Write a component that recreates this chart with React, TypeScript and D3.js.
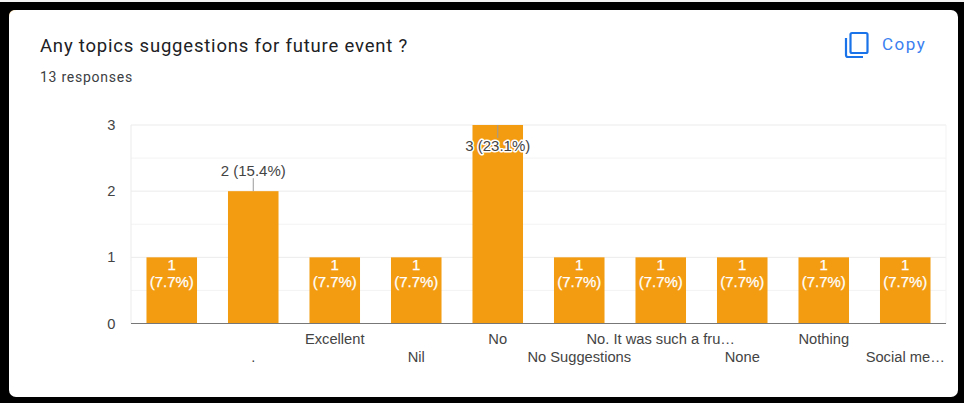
import React from "react";
import * as d3 from "d3";

const categories = ["(blank)", ".", "Excellent", "Nil", "No", "No Suggestions", "No. It was such a fru…", "None", "Nothing", "Social me…"];
const axisLabels = ["", ".", "Excellent", "Nil", "No", "No Suggestions", "No. It was such a fru…", "None", "Nothing", "Social me…"];
const counts = [1, 2, 1, 1, 3, 1, 1, 1, 1, 1];
const percents = ["7.7", "15.4", "7.7", "7.7", "23.1", "7.7", "7.7", "7.7", "7.7", "7.7"];
const yTicks = [0, 1, 2, 3];
const yMinor = [0.5, 1.5, 2.5];
const title = "Any topics suggestions for future event ?";
const subtitle = "13 responses";

const WIDTH = 964;
const HEIGHT = 403;
const CHART_FONT = "'Liberation Sans', Arial, sans-serif";
const HEAD_FONT = "Roboto, sans-serif";

export default function App() {
  const x = d3.scaleBand<string>().domain(categories).range([131, 946]).paddingInner(0.38).paddingOuter(0.19);
  const y = d3.scaleLinear().domain([0, 3]).range([323.5, 125]);
  const barColor = "#f39c12";

  return (
    <svg width={WIDTH} height={HEIGHT} viewBox={`0 0 ${WIDTH} ${HEIGHT}`} style={{ position: "absolute", left: 0, top: 0, display: "block" }}>
      <rect width={WIDTH} height={HEIGHT} fill="#000" />
      <rect x={0} y={0} width={WIDTH} height={2} fill="#f4f4f4" />
      <path d="M9 22 Q9 10 20 10 L14 10 Q9 11 9 16 Z" fill="#f6d7a5" />
      <rect x={9} y={10} width={949} height={387} rx={7} fill="#fff" />

      <text x={40} y={52} fontFamily={HEAD_FONT} fontSize={18.5} fill="#202124" letterSpacing={0.8}>{title}</text>
      <text x={40} y={82} fontFamily={HEAD_FONT} fontSize={14} fill="#3c4043" letterSpacing={0.75}>{subtitle}</text>

      <g fill="none" stroke="#1a73e8" strokeWidth={2.2}>
        <rect x={850.5} y={33} width={17} height={20} rx={1.5} />
        <path d="M846 38 V55 Q846 57 848 57 H863" />
      </g>
      <text x={882} y={50} fontFamily={HEAD_FONT} fontSize={17} fontWeight={400} fill="#3b7ff0" letterSpacing={1.5}>Copy</text>

      <g>
        {yMinor.map((t) => (
          <line key={t} x1={131} x2={946} y1={y(t)} y2={y(t)} stroke="#f3f3f3" />
        ))}
        {yTicks.filter((t) => t > 0).map((t) => (
          <line key={t} x1={131} x2={946} y1={y(t)} y2={y(t)} stroke="#ebebeb" />
        ))}
        <line x1={131} x2={131} y1={y(3)} y2={y(0)} stroke="#ebebeb" />
        <line x1={946} x2={946} y1={y(3)} y2={y(0)} stroke="#f3f3f3" />
      </g>

      {yTicks.map((t) => (
        <text key={t} x={115.5} y={y(t) + 5} textAnchor="end" fontFamily={CHART_FONT} fontSize={14.7} fill="#444">{t}</text>
      ))}

      {categories.map((c, i) => {
        const bx = x(c)!;
        const cx = bx + x.bandwidth() / 2;
        const top = y(counts[i]);
        const h = y(0) - top;
        return (
          <g key={c}>
            <rect x={bx} y={top} width={x.bandwidth()} height={h} fill={barColor} />
            {axisLabels[i] && (
              <text x={cx} y={i % 2 === 0 ? 343.5 : 361.5} textAnchor="middle" fontFamily={CHART_FONT} fontSize={14.7} fill="#444">{axisLabels[i]}</text>
            )}
          </g>
        );
      })}

      {categories.map((c, i) => {
        const cx = x(c)! + x.bandwidth() / 2;
        const top = y(counts[i]);
        const pct = `(${percents[i]}%)`;
        if (counts[i] === 1) {
          return (
            <g key={c} fontFamily={CHART_FONT} fontSize={15} fill="#fff" textAnchor="middle" stroke="#fff" strokeWidth={0.25}>
              <text x={cx} y={top + 13}>{counts[i]}</text>
              <text x={cx} y={top + 30}>{pct}</text>
            </g>
          );
        }
        if (counts[i] === 2) {
          return (
            <g key={c}>
              <line x1={cx} x2={cx} y1={top} y2={top - 13} stroke="#999" />
              <text x={cx} y={top - 15} textAnchor="middle" fontFamily={CHART_FONT} fontSize={15} fill="#444">{`${counts[i]} ${pct}`}</text>
            </g>
          );
        }
        return (
          <g key={c}>
            <line x1={cx} x2={cx} y1={top} y2={top + 13} stroke="#999" />
            <text x={cx} y={top + 25.5} textAnchor="middle" fontFamily={CHART_FONT} fontSize={15} fill="#444" stroke="#fff" strokeWidth={3} paintOrder="stroke" strokeLinejoin="round">{`${counts[i]} ${pct}`}</text>
          </g>
        );
      })}

      <line x1={131} x2={946} y1={y(0)} y2={y(0)} stroke="#777" strokeWidth={1.2} />
    </svg>
  );
}
